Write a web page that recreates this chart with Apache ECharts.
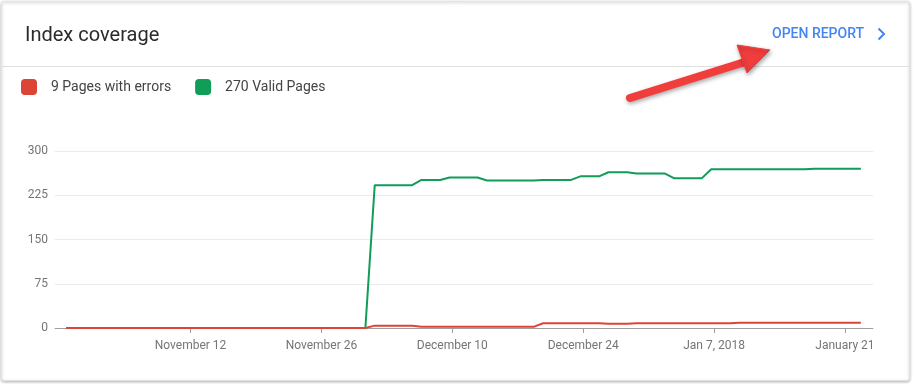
<!DOCTYPE html>
<html>
<head>
<meta charset="utf-8">
<script src="https://cdn.jsdelivr.net/npm/echarts@6/dist/echarts.min.js"></script>
<style>
  html, body { margin: 0; padding: 0; background: #ffffff; }
  #chart { width: 914px; height: 384px; }
</style>
</head>
<body>
<div id="chart"></div>
<script>
// Daily samples, day 0 = 2017-10-29 ... day 85 = 2018-01-22
const errorPages = [
  0,0,0,0,0,0,0,0,0,0,0,0,0,0,0,0,0,0,0,0,0,0,0,0,0,0,0,0,0,0,0,0,0,
  4,4,4,4,4,
  2,2,2,2,2,2,2,2,2,2,2,2,2,
  8,8,8,8,8,8,8,
  7,7,7,
  8,8,8,8,8,8,8,8,8,8,8,
  9,9,9,9,9,9,9,9,9,9,9,9,9,9
];
const validPages = [
  0,0,0,0,0,0,0,0,0,0,0,0,0,0,0,0,0,0,0,0,0,0,0,0,0,0,0,0,0,0,0,0,0,
  242,242,242,242,242,
  251,251,251,
  255,255,255,255,
  250,250,250,250,250,250,
  251,251,251,251,
  257,257,257,
  264,264,264,
  262,262,262,262,
  254,254,254,254,
  269,269,269,269,269,269,269,269,269,269,269,
  270,270,270,270,270,270
];
const seriesNames = ['9 Pages with errors', '270 Valid Pages'];
const tickDays = [14, 28, 42, 56, 70, 84];
const tickLabels = ['November 12', 'November 26', 'December 10', 'December 24', 'Jan 7, 2018', 'January 21'];
const yTicks = [0, 75, 150, 225, 300];

const sampleTimeOfDay = 0.7; // samples reported late in the day
const toPairs = arr => arr.map((v, i) => [i + sampleTimeOfDay, v]);

const FONT = 'Roboto, "Noto Sans", sans-serif';
const chart = echarts.init(document.getElementById('chart'), null, { renderer: 'canvas' });

chart.setOption({
  animation: false,
  backgroundColor: '#ffffff',
  textStyle: { fontFamily: FONT },
  legend: {
    left: 21,
    top: 79,
    padding: 0,
    itemWidth: 16,
    itemHeight: 16,
    itemGap: 24,
    icon: 'roundRect',
    selectedMode: false,
    textStyle: { fontSize: 14, color: '#444444', fontFamily: FONT, padding: [0, 0, 0, 9] },
    data: seriesNames
  },
  grid: { left: 55, right: 41, top: 151, bottom: 56, containLabel: false },
  xAxis: {
    type: 'value',
    min: -0.5,
    max: 87,
    splitLine: { show: false },
    axisLine: { show: true, lineStyle: { color: '#9e9e9e', width: 1 } },
    axisTick: { show: true, length: 5, lineStyle: { color: '#9e9e9e' }, customValues: tickDays },
    axisLabel: {
      customValues: tickDays,
      margin: 12,
      fontSize: 12,
      color: '#757575',
      fontFamily: FONT,
      formatter: v => tickLabels[tickDays.indexOf(Math.round(v))] || ''
    }
  },
  yAxis: {
    type: 'value',
    min: yTicks[0],
    max: yTicks[yTicks.length - 1],
    interval: 75,
    axisLine: { show: false },
    axisTick: { show: false },
    axisLabel: { margin: 7, fontSize: 12, color: '#757575', fontFamily: FONT },
    splitLine: { show: true, lineStyle: { color: '#ebebeb', width: 1 } }
  },
  series: [
    {
      name: seriesNames[0],
      type: 'line',
      data: toPairs(errorPages),
      showSymbol: false,
      z: 4,
      color: '#db4437',
      lineStyle: { width: 2, color: '#db4437' }
    },
    {
      name: seriesNames[1],
      type: 'line',
      data: toPairs(validPages),
      showSymbol: false,
      z: 3,
      color: '#0f9d58',
      lineStyle: { width: 2, color: '#0f9d58' }
    }
  ],
  graphic: [
    {
      type: 'rect', z: -10, silent: true,
      shape: { x: 1.5, y: 1.5, width: 908, height: 379, r: 2 },
      style: { fill: '#ffffff', stroke: '#e3e3e3', lineWidth: 1,
               shadowBlur: 3, shadowColor: 'rgba(0,0,0,0.28)', shadowOffsetY: 1 }
    },
    {
      type: 'line', z: 5, silent: true,
      shape: { x1: 2, y1: 66.5, x2: 909, y2: 66.5 },
      style: { stroke: '#e0e0e0', lineWidth: 1 }
    },
    {
      type: 'text', z: 5, left: 25, top: 26,
      style: { text: 'Index coverage', fontSize: 20, fill: '#2b2b2b', fontFamily: FONT }
    },
    {
      type: 'text', z: 5, left: 772, top: 27,
      style: { text: 'OPEN REPORT', fontSize: 14, fontWeight: 500, fill: '#4285f4', fontFamily: FONT }
    },
    {
      type: 'polyline', z: 5, silent: true,
      shape: { points: [[878.5, 28.5], [884, 34], [878.5, 39.5]] },
      style: { stroke: '#4285f4', lineWidth: 2, fill: null }
    },
    {
      type: 'line', z: 6, silent: true,
      shape: { x1: 630, y1: 98, x2: 748, y2: 61 },
      style: { stroke: '#f23d3d', lineWidth: 8, lineCap: 'round',
               shadowBlur: 4, shadowColor: 'rgba(0,0,0,0.35)', shadowOffsetX: 1, shadowOffsetY: 2 }
    },
    {
      type: 'polygon', z: 7, silent: true,
      shape: { points: [[770, 50], [737, 45], [747, 73]] },
      style: { fill: '#f23d3d', stroke: '#f23d3d', lineWidth: 1, lineJoin: 'round',
               shadowBlur: 4, shadowColor: 'rgba(0,0,0,0.35)', shadowOffsetX: 1, shadowOffsetY: 2 }
    }
  ]
});
</script>
</body>
</html>
